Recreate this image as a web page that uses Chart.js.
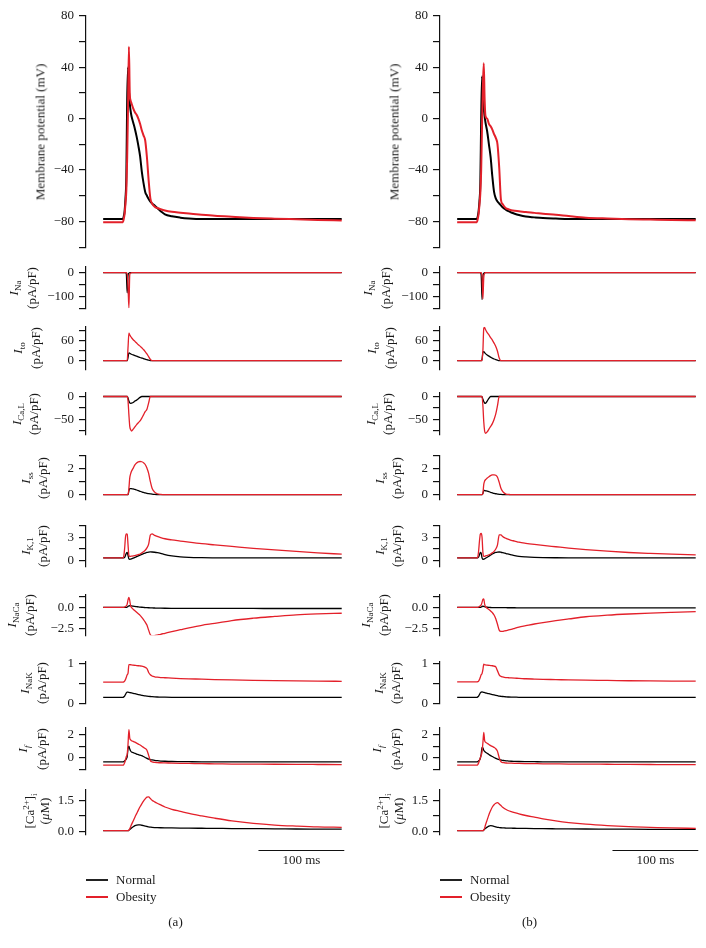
<!DOCTYPE html>
<html><head><meta charset="utf-8">
<script src="https://cdn.jsdelivr.net/npm/chart.js@4.4.0/dist/chart.umd.min.js"></script>
<style>
body{margin:0;background:#fff;}
#root{position:relative;width:706px;height:948px;overflow:hidden;font-family:'Liberation Serif','Times New Roman',serif;color:#1a1a1a;}
canvas{position:absolute;}
.yt{position:absolute;white-space:nowrap;font-size:13px;line-height:1;transform:translate(-50%,-50%) rotate(-90deg);}
.yt sub{font-size:9px;vertical-align:-3px;}
.yt sup{font-size:9px;vertical-align:5px;}
.lg{position:absolute;white-space:nowrap;font-size:13px;line-height:16px;}
.ln{position:absolute;height:1.4px;width:22px;}
.cap{position:absolute;font-size:13px;line-height:16px;transform:translate(-50%,-50%);}
</style></head>
<body><div id="root"></div>
<script>
// ---------- time axis (ms) ----------
const T = [0,23,24,25,26,27,28,29,30,31,32,33,35,37,39,41,43,45,47,49,51,53,55,57,60,63,67,72,80,90,100,115,130,150,175,200,225,250,278];

// ---------- series (A = panel a, B = panel b) ----------
const vmNormalA = [-78,-78,-76,-72,-62,-45,15,40,22,12,6,2,-3,-8,-14,-21,-29,-41,-50,-57,-60,-62.5,-64.5,-66,-67.5,-69.5,-72,-74.5,-76,-77,-77.6,-78,-78,-78,-78,-78,-78,-78,-78];
const vmObeseA  = [-80.5,-80.5,-78,-74,-66,-56,-30,10,56,20,14,12,8,5,3,0,-4,-9,-13,-17,-30,-48,-62,-66,-68.5,-69.5,-70.5,-71.5,-72.5,-73.2,-73.8,-74.7,-75.5,-76.3,-77.2,-77.8,-78.3,-78.8,-79.2];
const vmNormalB = [-78,-78,-76,-72,-64,-50,0,33,20,8,2,-3,-10,-20,-30,-45,-57,-62,-64.5,-66,-67.5,-69,-70,-71,-72,-73,-74,-75,-76.2,-76.8,-77.3,-77.7,-78,-78,-78,-78,-78,-78,-78];
const vmObeseB  = [-80.5,-80.5,-78,-74,-67,-58,-40,-5,25,43,15,2,0,-4,-6,-8.5,-12,-15,-20,-38,-63,-66.5,-68.5,-69.8,-70.5,-71.2,-71.7,-72,-72.7,-73.3,-74,-74.8,-75.8,-77,-77.7,-78.2,-78.5,-78.8,-79];

const iNaNormalA = [0,0,0,0,0,-5,-85,-10,-2,0,0,0,0,0,0,0,0,0,0,0,0,0,0,0,0,0,0,0,0,0,0,0,0,0,0,0,0,0,0];
const iNaObeseA  = [0,0,0,0,0,0,-5,-60,-148,-8,-2,0,0,0,0,0,0,0,0,0,0,0,0,0,0,0,0,0,0,0,0,0,0,0,0,0,0,0,0];
const iNaNormalB = [0,0,0,0,0,0,-10,-114,-15,-3,0,0,0,0,0,0,0,0,0,0,0,0,0,0,0,0,0,0,0,0,0,0,0,0,0,0,0,0,0];
const iNaObeseB  = [0,0,0,0,0,0,0,-15,-110,-20,-3,0,0,0,0,0,0,0,0,0,0,0,0,0,0,0,0,0,0,0,0,0,0,0,0,0,0,0,0];

const iToNormalA = [0,0,0,0,0,0,0,10,23,22,20.5,19,17,15,13.5,11.5,9.5,8,6.5,4.5,3,1.5,0.5,0,0,0,0,0,0,0,0,0,0,0,0,0,0,0,0];
const iToObeseA  = [0,0,0,0,0,0,0,40,81,76,72,68,62,57,52,47,43,38,33,27,20,12,4,0,0,0,0,0,0,0,0,0,0,0,0,0,0,0,0];
const iToNormalB = [0,0,0,0,0,0,0,5,25,27,24,21,17,13.5,10.5,7.5,5,3,1.5,0.3,0,0,0,0,0,0,0,0,0,0,0,0,0,0,0,0,0,0,0];
const iToObeseB  = [0,0,0,0,0,0,0,0,30,95,98,92,83,76,68,61,52,42,28,8,0,0,0,0,0,0,0,0,0,0,0,0,0,0,0,0,0,0,0];

const iCaLNormalA = [0,0,0,0,0,0,0,-3,-10,-14,-15,-14.5,-13,-10,-8,-5,-2,0,0,0,0,0,0,0,0,0,0,0,0,0,0,0,0,0,0,0,0,0,0];
const iCaLObeseA  = [0,0,0,0,0,0,0,-10,-40,-65,-72,-75,-71,-66,-61,-57,-53,-47,-40,-33,-28,-14,0,0,0,0,0,0,0,0,0,0,0,0,0,0,0,0,0];
const iCaLNormalB = [0,0,0,0,0,0,0,-1,-6,-11,-14,-14.7,-10,-4,0,0,0,0,0,0,0,0,0,0,0,0,0,0,0,0,0,0,0,0,0,0,0,0,0];
const iCaLObeseB  = [0,0,0,0,0,0,0,0,-20,-55,-75,-80,-77,-71,-65,-59,-50,-38,-20,0,0,0,0,0,0,0,0,0,0,0,0,0,0,0,0,0,0,0,0];

const iSsNormalA = [0,0,0,0,0,0,0,0,0.3,0.46,0.47,0.46,0.44,0.4,0.36,0.31,0.26,0.21,0.17,0.13,0.1,0.08,0.06,0.04,0.02,0.01,0,0,0,0,0,0,0,0,0,0,0,0,0];
const iSsObeseA  = [0,0,0,0,0,0,0,0,0.5,1.3,1.6,1.8,2.05,2.3,2.45,2.53,2.56,2.54,2.47,2.33,2.05,1.65,1.0,0.5,0.2,0.07,0.02,0,0,0,0,0,0,0,0,0,0,0,0];
const iSsNormalB = [0,0,0,0,0,0,0,0,0.1,0.3,0.32,0.3,0.27,0.23,0.18,0.14,0.1,0.07,0.05,0.03,0.02,0.01,0,0,0,0,0,0,0,0,0,0,0,0,0,0,0,0,0];
const iSsObeseB  = [0,0,0,0,0,0,0,0,0.1,0.8,1.05,1.15,1.28,1.38,1.47,1.52,1.53,1.5,1.35,0.95,0.5,0.25,0.12,0.05,0.02,0,0,0,0,0,0,0,0,0,0,0,0,0,0];

const iK1NormalA = [0.3,0.3,0.3,0.35,0.6,0.9,1.0,0.6,0.15,0.1,0.12,0.15,0.25,0.35,0.45,0.55,0.65,0.75,0.85,0.93,1.0,1.05,1.07,1.06,1.03,0.98,0.88,0.72,0.55,0.42,0.36,0.32,0.3,0.3,0.3,0.3,0.3,0.3,0.3];
const iK1ObeseA  = [0.3,0.3,0.5,1.5,3.0,3.45,3.4,2.0,0.6,0.5,0.5,0.52,0.55,0.6,0.65,0.72,0.8,0.95,1.1,1.3,1.6,2.1,3.3,3.45,3.25,3.1,2.95,2.8,2.65,2.5,2.35,2.15,2.0,1.8,1.55,1.35,1.15,0.95,0.78];
const iK1NormalB = [0.3,0.3,0.3,0.4,0.7,1.0,0.9,0.3,0.1,0.12,0.18,0.25,0.38,0.52,0.66,0.8,0.92,1.0,1.05,1.06,1.03,0.98,0.92,0.86,0.78,0.7,0.6,0.5,0.42,0.36,0.33,0.31,0.3,0.3,0.3,0.3,0.3,0.3,0.3];
const iK1ObeseB  = [0.3,0.3,0.4,1.2,2.5,3.4,3.5,3.0,1.0,0.5,0.5,0.55,0.6,0.7,0.8,0.95,1.15,1.45,2.0,3.3,3.3,3.1,2.95,2.85,2.72,2.6,2.5,2.35,2.2,2.05,1.92,1.75,1.58,1.38,1.17,1.0,0.88,0.78,0.69];

const iNaCaNormalA = [0,0,0,0,0,0,0.05,0.12,0.18,0.2,0.2,0.18,0.15,0.12,0.09,0.06,0.04,0.02,0,-0.02,-0.03,-0.04,-0.05,-0.06,-0.07,-0.08,-0.09,-0.1,-0.11,-0.12,-0.12,-0.12,-0.12,-0.12,-0.12,-0.13,-0.13,-0.13,-0.13];
const iNaCaObeseA  = [0,0,0.02,0.05,0.1,0.2,0.4,0.9,1.2,0.8,0.2,0,-0.22,-0.4,-0.58,-0.76,-0.94,-1.18,-1.45,-1.75,-2.1,-2.7,-3.25,-3.38,-3.35,-3.28,-3.2,-3.07,-2.88,-2.65,-2.42,-2.12,-1.9,-1.56,-1.28,-1.07,-0.88,-0.77,-0.69];
const iNaCaNormalB = [0,0,0,0,0,0,0.05,0.1,0.15,0.12,0.08,0.05,0.02,0,-0.01,-0.015,-0.02,-0.02,-0.025,-0.03,-0.03,-0.03,-0.035,-0.035,-0.04,-0.04,-0.04,-0.045,-0.045,-0.045,-0.05,-0.05,-0.05,-0.05,-0.05,-0.05,-0.05,-0.05,-0.05];
const iNaCaObeseB  = [0,0,0.02,0.05,0.1,0.2,0.3,0.6,0.95,1.0,0.4,0.1,-0.1,-0.25,-0.42,-0.62,-0.9,-1.35,-2.0,-2.7,-2.85,-2.85,-2.8,-2.75,-2.68,-2.6,-2.48,-2.33,-2.17,-1.97,-1.8,-1.57,-1.37,-1.11,-0.92,-0.78,-0.67,-0.58,-0.49];

const iNaKNormalA = [0.15,0.15,0.16,0.18,0.22,0.26,0.28,0.28,0.275,0.27,0.265,0.26,0.25,0.24,0.23,0.22,0.21,0.2,0.19,0.185,0.18,0.175,0.17,0.165,0.16,0.157,0.155,0.152,0.15,0.15,0.15,0.15,0.15,0.15,0.15,0.15,0.15,0.15,0.15];
const iNaKObeseA  = [0.533,0.533,0.54,0.56,0.6,0.66,0.72,0.76,0.98,0.98,0.975,0.97,0.965,0.96,0.955,0.95,0.945,0.94,0.93,0.91,0.88,0.78,0.72,0.69,0.67,0.66,0.65,0.645,0.635,0.625,0.618,0.61,0.6,0.59,0.58,0.572,0.565,0.56,0.556];
const iNaKNormalB = [0.15,0.15,0.16,0.18,0.22,0.26,0.28,0.285,0.28,0.275,0.27,0.26,0.25,0.24,0.23,0.22,0.21,0.2,0.19,0.18,0.175,0.17,0.165,0.16,0.157,0.155,0.153,0.15,0.15,0.15,0.15,0.15,0.15,0.15,0.15,0.15,0.15,0.15,0.15];
const iNaKObeseB  = [0.54,0.54,0.545,0.56,0.6,0.66,0.72,0.75,0.85,0.99,0.975,0.97,0.965,0.96,0.955,0.95,0.94,0.92,0.82,0.72,0.68,0.665,0.655,0.65,0.645,0.64,0.635,0.63,0.62,0.612,0.605,0.598,0.59,0.583,0.577,0.57,0.565,0.562,0.56];

const iFNormalA = [-0.36,-0.36,-0.33,-0.28,-0.2,-0.1,0.1,0.8,1.0,0.75,0.58,0.5,0.45,0.38,0.32,0.27,0.22,0.18,0.1,0.02,-0.06,-0.12,-0.16,-0.19,-0.23,-0.26,-0.29,-0.31,-0.33,-0.34,-0.35,-0.36,-0.36,-0.36,-0.36,-0.36,-0.36,-0.36,-0.36];
const iFObeseA  = [-0.65,-0.65,-0.6,-0.45,-0.2,0.1,0.3,1.2,2.45,1.7,1.55,1.48,1.42,1.35,1.27,1.18,1.1,1.0,0.9,0.8,0.65,0.2,-0.25,-0.36,-0.4,-0.42,-0.44,-0.45,-0.47,-0.49,-0.5,-0.52,-0.53,-0.55,-0.56,-0.57,-0.58,-0.59,-0.6];
const iFNormalB = [-0.36,-0.36,-0.33,-0.28,-0.2,-0.05,0.3,0.9,0.85,0.65,0.55,0.48,0.38,0.28,0.18,0.1,0.02,-0.06,-0.12,-0.17,-0.2,-0.23,-0.25,-0.27,-0.29,-0.31,-0.32,-0.33,-0.34,-0.35,-0.36,-0.36,-0.36,-0.36,-0.36,-0.36,-0.36,-0.36,-0.36];
const iFObeseB  = [-0.65,-0.65,-0.6,-0.45,-0.25,0,0.2,0.5,1.3,2.2,1.5,1.35,1.25,1.15,1.05,0.98,0.9,0.78,0.55,0,-0.35,-0.42,-0.44,-0.46,-0.47,-0.48,-0.49,-0.5,-0.51,-0.52,-0.53,-0.54,-0.55,-0.56,-0.57,-0.58,-0.59,-0.6,-0.6];

const caNormalA = [0.03,0.03,0.03,0.03,0.03,0.03,0.03,0.03,0.05,0.08,0.12,0.16,0.22,0.27,0.3,0.31,0.31,0.29,0.27,0.25,0.23,0.21,0.2,0.19,0.18,0.175,0.17,0.165,0.16,0.155,0.15,0.145,0.14,0.13,0.125,0.12,0.11,0.105,0.1];
const caObeseA  = [0.03,0.03,0.03,0.03,0.03,0.03,0.03,0.03,0.05,0.12,0.22,0.32,0.5,0.68,0.85,1.02,1.18,1.32,1.45,1.56,1.65,1.66,1.58,1.5,1.42,1.35,1.27,1.17,1.06,0.96,0.86,0.74,0.63,0.5,0.38,0.3,0.25,0.21,0.19];
const caNormalB = [0.03,0.03,0.03,0.03,0.03,0.03,0.03,0.03,0.03,0.06,0.1,0.14,0.2,0.25,0.27,0.26,0.24,0.21,0.19,0.18,0.17,0.165,0.16,0.155,0.15,0.147,0.145,0.14,0.135,0.13,0.125,0.12,0.115,0.11,0.105,0.1,0.095,0.09,0.09];
const caObeseB  = [0.03,0.03,0.03,0.03,0.03,0.03,0.03,0.03,0.03,0.06,0.15,0.3,0.55,0.8,1.0,1.17,1.28,1.35,1.38,1.32,1.24,1.16,1.1,1.05,0.99,0.95,0.9,0.84,0.76,0.68,0.6,0.5,0.42,0.34,0.27,0.22,0.19,0.16,0.14];

// ---------- tick values and labels ----------
const tickVm = [-100,-80,-60,-40,-20,0,20,40,60,80];
const tickVmLabels = ['','−80','','−40','','0','','40','','80'];
const tickNa = [-150,-100,-50,0];
const tickNaLabels = ['','−100','','0'];
const tickTo = [0,30,60,90];
const tickToLabels = ['0','','60',''];
const tickCaL = [-75,-50,-25,0];
const tickCaLLabels = ['','−50','','0'];
const tickSs = [0,1,2,3];
const tickSsLabels = ['0','','2',''];
const tickK1 = [0,1.5,3,4.5];
const tickK1Labels = ['0','','3',''];
const tickNaCa = [-2.5,-1.25,0,1.25];
const tickNaCaLabels = ['−2.5','','0.0',''];
const tickNaK = [0,0.5,1];
const tickNaKLabels = ['0','','1'];
const tickF = [-1,0,1,2];
const tickFLabels = ['','0','','2'];
const tickCa = [0,0.75,1.5];
const tickCaLabels = ['0.0','','1.5'];

const SCALE_BAR = [181, 281];     // ms
const SCALE_BAR_TEXT = '100 ms';
const LEGEND = ['Normal','Obesity'];
const CAPTIONS = ['(a)','(b)'];

// ---------- panels: data mapping ----------
const SERIES = [
  {n:[vmNormalA,vmNormalB], o:[vmObeseA,vmObeseB], t:tickVm, l:tickVmLabels, min:-100, max:80,
   title:['Membrane potential (mV)']},
  {n:[iNaNormalA,iNaNormalB], o:[iNaObeseA,iNaObeseB], t:tickNa, l:tickNaLabels, min:-150, max:25,
   title:['<i>I</i><sub>Na</sub>','(pA/pF)']},
  {n:[iToNormalA,iToNormalB], o:[iToObeseA,iToObeseB], t:tickTo, l:tickToLabels, min:-25, max:100,
   title:['<i>I</i><sub>to</sub>','(pA/pF)']},
  {n:[iCaLNormalA,iCaLNormalB], o:[iCaLObeseA,iCaLObeseB], t:tickCaL, l:tickCaLLabels, min:-82, max:8,
   title:['<i>I</i><sub>Ca,L</sub>','(pA/pF)']},
  {n:[iSsNormalA,iSsNormalB], o:[iSsObeseA,iSsObeseB], t:tickSs, l:tickSsLabels, min:-0.35, max:3,
   title:['<i>I</i><sub>ss</sub>','(pA/pF)']},
  {n:[iK1NormalA,iK1NormalB], o:[iK1ObeseA,iK1ObeseB], t:tickK1, l:tickK1Labels, min:-0.8, max:4.5,
   title:['<i>I</i><sub>K,1</sub>','(pA/pF)']},
  {n:[iNaCaNormalA,iNaCaNormalB], o:[iNaCaObeseA,iNaCaObeseB], t:tickNaCa, l:tickNaCaLabels, min:-3.3, max:1.5,
   title:['<i>I</i><sub>NaCa</sub>','(pA/pF)']},
  {n:[iNaKNormalA,iNaKNormalB], o:[iNaKObeseA,iNaKObeseB], t:tickNaK, l:tickNaKLabels, min:0, max:1.05,
   title:['<i>I</i><sub>NaK</sub>','(pA/pF)']},
  {n:[iFNormalA,iFNormalB], o:[iFObeseA,iFObeseB], t:tickF, l:tickFLabels, min:-1, max:2.6,
   title:['<i>I</i><sub><i>f</i></sub>','(pA/pF)']},
  {n:[caNormalA,caNormalB], o:[caObeseA,caObeseB], t:tickCa, l:tickCaLabels, min:-0.18, max:2.0,
   title:['[Ca<sup>2+</sup>]<sub>i</sub>','(<i>μ</i>M)']}
];

// ---------- layout (pixel positions, styles) ----------
const LAYOUT = [
  {top:13, bot:250, lw:2.0, tx:[40]},
  {top:264, bot:311, lw:1.3, tx:[15,31]},
  {top:324, bot:372, lw:1.3, tx:[19,35]},
  {top:390, bot:437, lw:1.3, tx:[18,33]},
  {top:453, bot:502, lw:1.3, tx:[27,42]},
  {top:523, bot:569, lw:1.3, tx:[27,42]},
  {top:592, bot:638, lw:1.3, tx:[13,29]},
  {top:659, bot:706, lw:1.3, tx:[26,41]},
  {top:725, bot:772, lw:1.3, tx:[24,41]},
  {top:787, bot:835, lw:1.3, tx:[30,44], padB:40, bar:true}
];
const COL_W = 354;
const RED = '#e3202a', BLACK = '#000000';
const FONT = "'Liberation Serif','Times New Roman',serif";

const root = document.getElementById('root');

const scaleBarPlugin = {
  id: 'scalebar',
  afterDraw(chart) {
    const xs = chart.scales.x, ctx = chart.ctx;
    const x0 = xs.getPixelForValue(SCALE_BAR[0]), x1 = xs.getPixelForValue(SCALE_BAR[1]);
    const y = chart.chartArea.bottom + 15.5;
    ctx.save();
    ctx.strokeStyle = '#111'; ctx.lineWidth = 1.2;
    ctx.beginPath(); ctx.moveTo(x0, y); ctx.lineTo(x1, y); ctx.stroke();
    ctx.fillStyle = '#1a1a1a'; ctx.font = '13px ' + FONT;
    ctx.textAlign = 'center'; ctx.textBaseline = 'middle';
    ctx.fillText(SCALE_BAR_TEXT, (x0 + x1) / 2, y + 10);
    ctx.restore();
  }
};

function buildPanel(col, r) {
  const L = LAYOUT[r], S = SERIES[r];
  const padT = 10, padB = L.padB || 10;
  const h = L.bot - L.top + padT + padB;
  const cv = document.createElement('canvas');
  cv.width = 353; cv.height = h;
  cv.style.left = (col * COL_W) + 'px';
  cv.style.top = (L.top - padT) + 'px';
  cv.style.width = '353px'; cv.style.height = h + 'px';
  root.appendChild(cv);
  const mk = arr => T.map((t, i) => ({x: t, y: arr[i]}));
  new Chart(cv, {
    type: 'line',
    data: {datasets: [
      {label: LEGEND[1], data: mk(S.o[col]), borderColor: RED, borderWidth: L.lw, order: 0,
       pointRadius: 0, cubicInterpolationMode: 'monotone', fill: false},
      {label: LEGEND[0], data: mk(S.n[col]), borderColor: BLACK, borderWidth: L.lw, order: 1,
       pointRadius: 0, cubicInterpolationMode: 'monotone', fill: false}
    ]},
    options: {
      responsive: false, animation: false, devicePixelRatio: 1,
      layout: {padding: {left: 0, right: 7, top: padT, bottom: padB}},
      plugins: {legend: {display: false}, tooltip: {enabled: false}},
      scales: {
        x: {type: 'linear', display: false, min: -20, max: 283},
        y: {
          type: 'linear', min: S.min, max: S.max,
          afterFit(s) { s.width = 86; },
          afterBuildTicks(s) { s.ticks = S.t.map(v => ({value: v})); },
          border: {display: true, color: '#111', width: 1.2},
          grid: {drawOnChartArea: false, drawTicks: true, tickLength: 7, color: '#111', lineWidth: 1.2},
          ticks: {autoSkip: false, padding: 5, color: '#1a1a1a', font: {family: FONT, size: 13},
                  callback: (v) => { const i = S.t.indexOf(v); return i < 0 ? '' : S.l[i]; }}
        }
      }
    },
    plugins: L.bar ? [scaleBarPlugin] : []
  });
  // rotated axis titles
  const cy = (L.top + L.bot) / 2;
  S.title.forEach((html, k) => {
    const d = document.createElement('div');
    d.className = 'yt';
    d.innerHTML = html;
    d.style.left = (col * COL_W + L.tx[k]) + 'px';
    d.style.top = cy + 'px';
    root.appendChild(d);
  });
}

for (let col = 0; col < 2; col++) {
  for (let r = 0; r < SERIES.length; r++) buildPanel(col, r);
  const ox = col * COL_W;
  // legend
  [[BLACK, 880], [RED, 897]].forEach(([c, y], k) => {
    const ln = document.createElement('div');
    ln.className = 'ln'; ln.style.background = k === 0 ? '#222' : c;
    ln.style.left = (ox + 86) + 'px'; ln.style.top = (y - 0.7) + 'px';
    root.appendChild(ln);
    const tx = document.createElement('div');
    tx.className = 'lg'; tx.textContent = LEGEND[k];
    tx.style.left = (ox + 116) + 'px'; tx.style.top = (y - 8) + 'px';
    root.appendChild(tx);
  });
  const cap = document.createElement('div');
  cap.className = 'cap'; cap.textContent = CAPTIONS[col];
  cap.style.left = (ox + 175.5) + 'px'; cap.style.top = '922px';
  root.appendChild(cap);
}
</script>
</body></html>
